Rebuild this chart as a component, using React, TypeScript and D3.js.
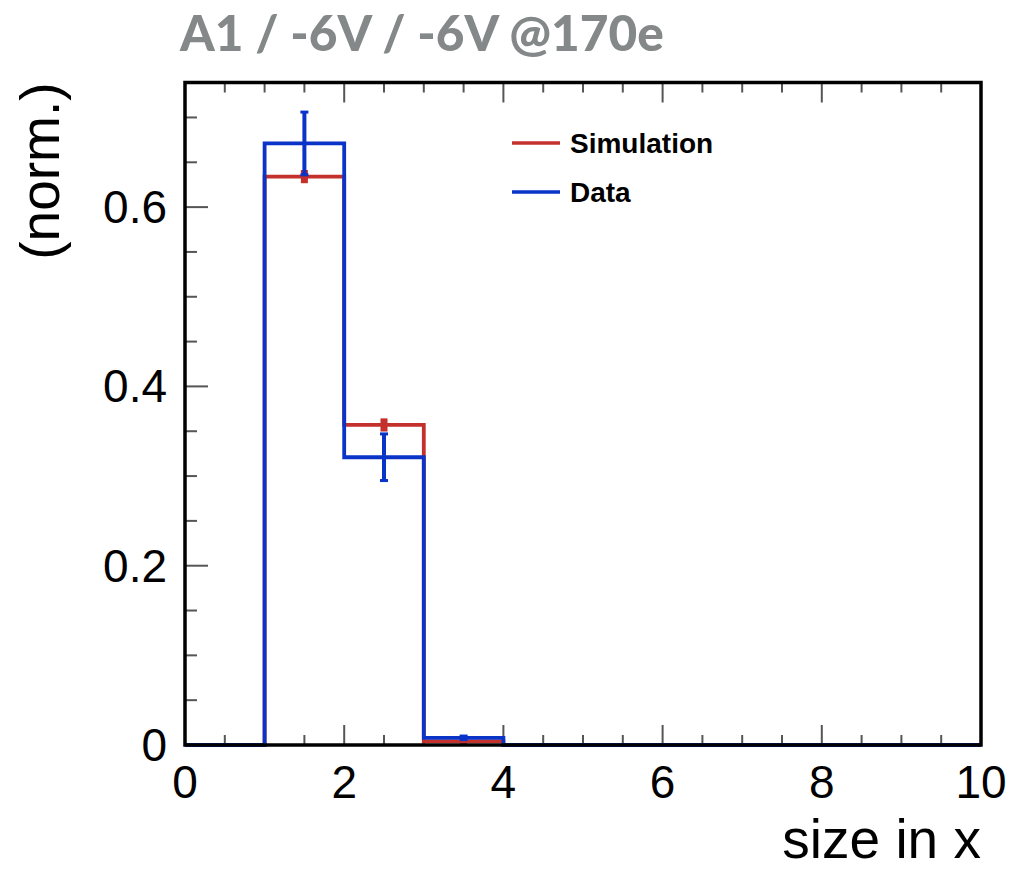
import React from "react";
import * as d3 from "d3";

const binEdges = [0, 1, 2, 3, 4, 5, 6, 7, 8, 9, 10];
const simValues = [0, 0.634, 0.357, 0.004, 0, 0, 0, 0, 0, 0];
const simErrors = [0, 0.004, 0.004, 0.001, 0, 0, 0, 0, 0, 0];
const dataValues = [0, 0.671, 0.321, 0.008, 0, 0, 0, 0, 0, 0];
const dataErrors = [0, 0.035, 0.026, 0.002, 0, 0, 0, 0, 0, 0];
const xMajorTicks = [0, 2, 4, 6, 8, 10];
const yMajorTicks = [0, 0.2, 0.4, 0.6];
const legendLabels = ["Simulation", "Data"];
const titleText = "A1 / -6V / -6V @170e";

const W = 1013;
const H = 870;
const M = { left: 185, right: 981, top: 82.5, bottom: 745 };
const RED = "#c4302b";
const BLUE = "#0a33c8";

export default function App() {
  const x = d3.scaleLinear().domain([0, 10]).range([M.left, M.right]);
  const y = d3.scaleLinear().domain([0, 0.739]).range([M.bottom, M.top]);

  const stepPath = (vals: number[]) => {
    const pts: [number, number][] = [];
    vals.forEach((v, i) => {
      pts.push([binEdges[i], v]);
      pts.push([binEdges[i + 1], v]);
    });
    return d3
      .line<[number, number]>()
      .x((d) => x(d[0]))
      .y((d) => y(d[1]))(pts) as string;
  };

  const xMinor = d3.range(0, 10.001, 0.5).filter((t) => !xMajorTicks.some((m) => Math.abs(m - t) < 1e-6));
  const yMinor = d3.range(0, 0.7301, 0.05).filter((t) => !yMajorTicks.some((m) => Math.abs(m - t) < 1e-6));

  const errBars = (vals: number[], errs: number[], color: string, cap: boolean) =>
    vals.map((v, i) => {
      if (errs[i] <= 0) return null;
      const cx = x((binEdges[i] + binEdges[i + 1]) / 2);
      const y1 = y(v + errs[i]);
      const y2 = y(v - errs[i]);
      return (
        <g key={i}>
          <line x1={cx} x2={cx} y1={y1} y2={y2} stroke={color} strokeWidth={4} />
          {cap && (
            <>
              <line x1={cx - 4} x2={cx + 4} y1={y1} y2={y1} stroke={color} strokeWidth={3} />
              <line x1={cx - 4} x2={cx + 4} y1={y2} y2={y2} stroke={color} strokeWidth={3} />
            </>
          )}
          {!cap && <rect x={cx - 3.5} y={Math.min(y1, y(v)) - 3} width={7} height={Math.abs(y2 - y1) + 6} fill={color} />}
        </g>
      );
    });

  const tickFont = "'Liberation Sans', Arial, Helvetica, sans-serif";

  return (
    <svg width={W} height={H} style={{ position: "absolute", left: 0, top: 0, background: "#fff" }}>
      <rect x={0} y={0} width={W} height={H} fill="#fff" />
      <text x={180} y={51} fill="#858888" fontFamily="Lato, 'Open Sans', sans-serif" fontWeight={900} fontSize={49.5}>
        {titleText}
      </text>

      {/* ticks */}
      {xMajorTicks.map((t) => (
        <g key={"xm" + t}>
          <line x1={x(t)} x2={x(t)} y1={M.bottom} y2={M.bottom - 20} stroke="#555" strokeWidth={2} />
          <line x1={x(t)} x2={x(t)} y1={M.top} y2={M.top + 20} stroke="#555" strokeWidth={2} />
          <text x={x(t)} y={798} textAnchor="middle" fontFamily={tickFont} fontSize={46} fill="#000">
            {t}
          </text>
        </g>
      ))}
      {xMinor.map((t) => (
        <g key={"xn" + t}>
          <line x1={x(t)} x2={x(t)} y1={M.bottom} y2={M.bottom - 10} stroke="#555" strokeWidth={2} />
          <line x1={x(t)} x2={x(t)} y1={M.top} y2={M.top + 10} stroke="#555" strokeWidth={2} />
        </g>
      ))}
      {yMajorTicks.map((t) => (
        <g key={"ym" + t}>
          <line x1={M.left} x2={M.left + 23} y1={y(t)} y2={y(t)} stroke="#555" strokeWidth={2} />
          <text x={167} y={y(t) + 16} textAnchor="end" fontFamily={tickFont} fontSize={46} fill="#000">
            {t === 0 ? "0" : t.toFixed(1)}
          </text>
        </g>
      ))}
      {yMinor.map((t) => (
        <line key={"yn" + t} x1={M.left} x2={M.left + 12} y1={y(t)} y2={y(t)} stroke="#555" strokeWidth={2} />
      ))}

      {/* histograms */}
      <path d={stepPath(simValues)} fill="none" stroke={RED} strokeWidth={3.8} />
      {errBars(simValues, simErrors, RED, false)}
      <path d={stepPath(dataValues)} fill="none" stroke={BLUE} strokeWidth={3.8} />
      {errBars(dataValues, dataErrors, BLUE, true)}

      {/* frame */}
      <rect x={M.left} y={M.top} width={M.right - M.left} height={M.bottom - M.top} fill="none" stroke="#000" strokeWidth={3.5} />

      {/* legend */}
      {legendLabels.map((lab, i) => (
        <g key={lab}>
          <line x1={512} x2={560} y1={143 + i * 49} y2={143 + i * 49} stroke={i === 0 ? RED : BLUE} strokeWidth={3.5} />
          <text x={570} y={153 + i * 49} fontFamily={tickFont} fontWeight={700} fontSize={28} fill="#000">
            {lab}
          </text>
        </g>
      ))}

      {/* axis titles */}
      <text x={981} y={858} textAnchor="end" fontFamily={tickFont} fontSize={55} fill="#000">
        size in x
      </text>
      <text
        transform={`translate(59, ${M.top}) rotate(-90)`}
        textAnchor="end"
        fontFamily={tickFont}
        fontSize={55}
        fill="#000"
      >
        (norm.)
      </text>
    </svg>
  );
}
